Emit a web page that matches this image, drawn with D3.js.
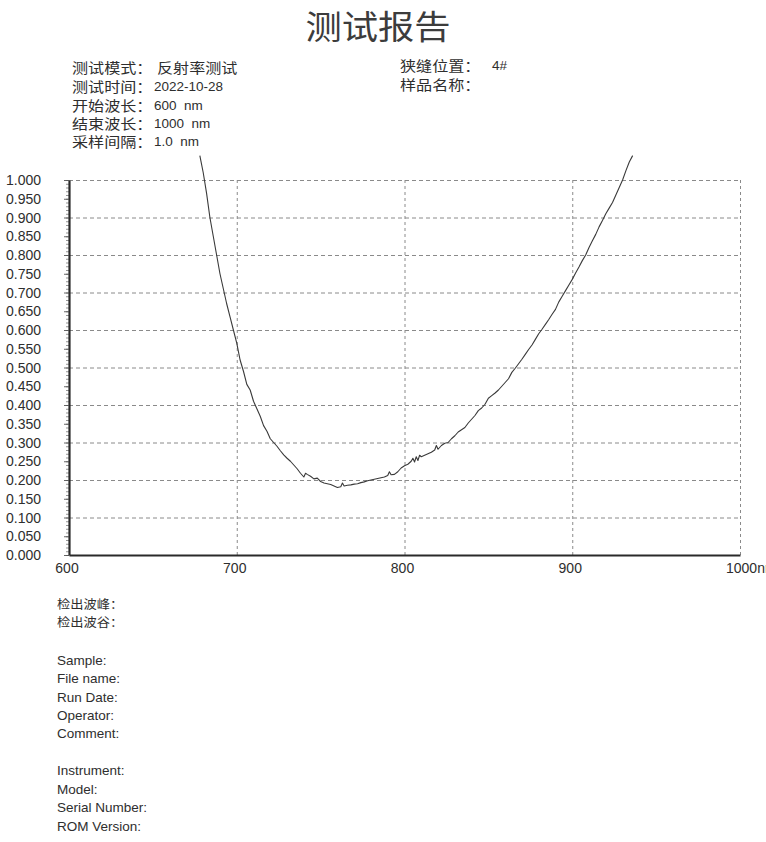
<!DOCTYPE html>
<html><head><meta charset="utf-8">
<script src="https://cdn.jsdelivr.net/npm/d3@7/dist/d3.min.js"></script>
<style>body{margin:0;background:#fff;} svg{display:block;}</style>
</head><body><svg id="c" width="766" height="842"></svg>
<script>
// ---------- data ----------
const wavelength = [678,680,682,684,686,688,690,692,694,696,698,700,702,704,706,708,710,712,714,716,718,720,722,724,726,728,730,732,734,736,738,740,741,742,744,746,748,750,752,754,756,758,760,762,763,764,766,768,770,772,774,776,778,780,782,784,786,788,790,791,792,794,796,798,800,802,804,805,806,807,808,809,810,812,814,816,818,819,820,822,824,826,828,830,832,834,836,838,840,842,844,846,848,850,852,854,856,858,860,862,864,866,868,870,872,874,876,878,880,882,884,886,888,890,892,894,896,898,900,902,904,906,908,910,912,914,916,918,920,922,924,926,928,930,932,934,936];
const reflectance = [1.065,1.02,0.965,0.90,0.85,0.80,0.75,0.71,0.67,0.635,0.60,0.565,0.52,0.49,0.455,0.44,0.41,0.39,0.37,0.345,0.33,0.31,0.30,0.29,0.278,0.267,0.258,0.25,0.24,0.23,0.218,0.208,0.218,0.215,0.21,0.203,0.205,0.196,0.192,0.19,0.188,0.184,0.18,0.182,0.192,0.184,0.186,0.187,0.189,0.19,0.193,0.195,0.198,0.2,0.202,0.204,0.206,0.208,0.212,0.222,0.214,0.215,0.222,0.232,0.238,0.242,0.25,0.258,0.248,0.262,0.252,0.266,0.262,0.266,0.27,0.274,0.28,0.292,0.282,0.292,0.298,0.30,0.31,0.318,0.328,0.334,0.34,0.352,0.362,0.372,0.385,0.392,0.402,0.418,0.425,0.432,0.44,0.45,0.46,0.47,0.487,0.498,0.51,0.522,0.535,0.548,0.56,0.575,0.59,0.602,0.615,0.628,0.642,0.655,0.675,0.69,0.705,0.72,0.735,0.752,0.768,0.785,0.80,0.82,0.838,0.855,0.875,0.892,0.91,0.925,0.94,0.96,0.98,1.0,1.025,1.048,1.065];

const yTickValues = [0,0.05,0.1,0.15,0.2,0.25,0.3,0.35,0.4,0.45,0.5,0.55,0.6,0.65,0.7,0.75,0.8,0.85,0.9,0.95,1.0];
const yTickLabels = ["0.000","0.050","0.100","0.150","0.200","0.250","0.300","0.350","0.400","0.450","0.500","0.550","0.600","0.650","0.700","0.750","0.800","0.850","0.900","0.950","1.000"];
const xTickValues = [600,700,800,900,1000];
const xTickLabels = ["600","700","800","900","1000nm"];
const yGridValues = [0.1,0.2,0.3,0.4,0.5,0.6,0.7,0.8,0.9,1.0];
const xGridValues = [700,800,900,1000];

const title = "测试报告";
const headerLeftLabels = ["测试模式：","测试时间：","开始波长：","结束波长：","采样间隔："];
const headerLeftValues = ["反射率测试","2022-10-28","600  nm","1000  nm","1.0  nm"];
const headerRightLabels = ["狭缝位置：","样品名称："];
const headerRightValues = ["4#",""];
const peakLabels = ["检出波峰：","检出波谷："];
const infoLabelsA = ["Sample:","File name:","Run Date:","Operator:","Comment:"];
const infoLabelsB = ["Instrument:","Model:","Serial Number:","ROM Version:"];

// ---------- drawing ----------
const svg = d3.select("#c");
const CJK = "'Noto Sans CJK SC','Noto Sans',sans-serif";
const LAT = "'Liberation Sans',Arial,sans-serif";
const ink = "#2e2e2e";

const x = d3.scaleLinear().domain([600,1000]).range([69,740]);
const y = d3.scaleLinear().domain([0,1]).range([555,180]);

function stretchText(px, py, txt, size, family, opts={}) {
  const g = svg.append("g").attr("transform", `translate(${px},${py}) scale(${opts.sx||1},1)`);
  g.append("text").text(txt)
    .attr("font-size", size).attr("font-family", family)
    .attr("fill", opts.fill || ink)
    .attr("text-anchor", opts.anchor || "start")
    .attr("xml:space","preserve").style("white-space","pre");
  return g;
}

// title
stretchText(378, 39, title, 33, CJK, {sx:1.1, anchor:"middle", fill:"#3c3c3c"});

// header
const rowY = [73,92,111,129,147];
headerLeftLabels.forEach((t,i)=>{
  stretchText(72, rowY[i], t, 14, CJK, {sx:1.15});
  const v = headerLeftValues[i];
  const isCJK = /[\u4e00-\u9fff]/.test(v);
  stretchText(isCJK?157:154, rowY[i]-(isCJK?0:1), v, isCJK?14:12.5, isCJK?CJK:LAT, {sx:isCJK?1.15:1.08});
});
headerRightLabels.forEach((t,i)=>{
  stretchText(400, rowY[i]-2, t, 14, CJK, {sx:1.15});
  if (headerRightValues[i]) stretchText(492, rowY[i]-3, headerRightValues[i], 12.5, LAT, {sx:1.08});
});

// grid (dashed)
const grid = svg.append("g").attr("class","grid");
grid.append("g").attr("transform","translate(69,0)")
  .call(d3.axisLeft(y).tickValues(yGridValues).tickSize(-(740-69)).tickFormat(""))
  .call(g=>g.select(".domain").remove())
  .call(g=>g.selectAll("line").attr("stroke","#8a8a8a").attr("stroke-width",1).attr("stroke-dasharray","4,3"));
grid.append("g").attr("transform","translate(0,555)")
  .call(d3.axisBottom(x).tickValues(xGridValues).tickSize(-(555-180)).tickFormat(""))
  .call(g=>g.select(".domain").remove())
  .call(g=>g.selectAll("line").attr("stroke","#8a8a8a").attr("stroke-width",1).attr("stroke-dasharray","3,3"));

// left axis with minor ticks
const minorVals = d3.range(0,101).map(i=>i/100);
svg.append("g").attr("transform","translate(69,0)")
  .call(d3.axisLeft(y).tickValues(minorVals).tickSize(3).tickFormat("").tickSizeOuter(0))
  .call(g=>g.select(".domain").remove())
  .call(g=>g.selectAll("line").attr("stroke","#666").attr("stroke-width",0.7));
svg.append("g").attr("transform","translate(69,0)")
  .call(d3.axisLeft(y).tickValues(yTickValues).tickSize(5).tickFormat("").tickSizeOuter(0))
  .call(g=>g.select(".domain").attr("stroke","#2a2a2a").attr("stroke-width",2.2))
  .call(g=>g.selectAll("line").attr("stroke","#555").attr("stroke-width",0.9));

// bottom axis
svg.append("g").attr("transform","translate(0,555)")
  .call(d3.axisBottom(x).tickValues([]).tickSizeOuter(0))
  .call(g=>g.select(".domain").attr("stroke","#2a2a2a").attr("stroke-width",2));

// y labels
yTickValues.forEach((v,i)=>{
  stretchText(41, y(v)+5, yTickLabels[i], 14, LAT, {anchor:"end"});
});
// x labels
xTickValues.forEach((v,i)=>{
  const last = i===xTickValues.length-1;
  stretchText(last ? x(v)-14 : x(v)-2, 573, xTickLabels[i], 14, LAT, {anchor: last?"start":"middle"});
});

// curve
const pts = d3.zip(wavelength, reflectance);
svg.append("path").datum(pts)
  .attr("fill","none").attr("stroke","#3a3a3a").attr("stroke-width",1.1)
  .attr("stroke-linejoin","round")
  .attr("d", d3.line().x(d=>x(d[0])).y(d=>y(d[1])));

// bottom info
const peakY = [609,627];
peakLabels.forEach((t,i)=>stretchText(57, peakY[i], t, 12.5, CJK, {sx:1.06}));
const infoAY = [665,683,702,720,738];
infoLabelsA.forEach((t,i)=>stretchText(57, infoAY[i], t, 13.5, LAT));
const infoBY = [775,794,812,831];
infoLabelsB.forEach((t,i)=>stretchText(57, infoBY[i], t, 13.5, LAT));
</script>
</body></html>
